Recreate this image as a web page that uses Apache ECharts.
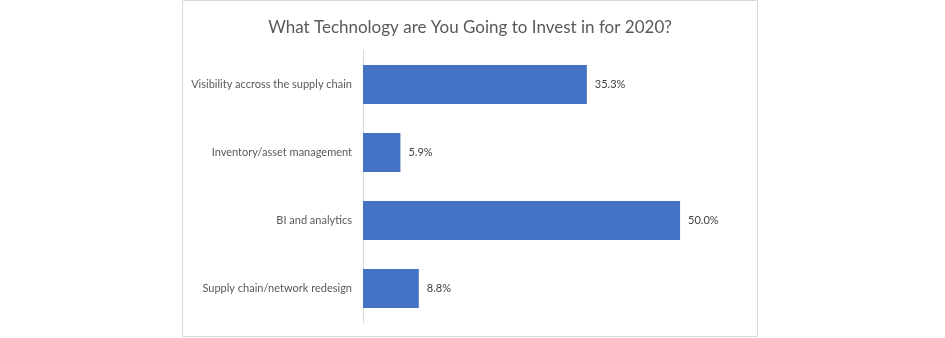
<!DOCTYPE html>
<html>
<head>
<meta charset="utf-8">
<script src="https://cdn.jsdelivr.net/npm/echarts@6/dist/echarts.min.js"></script>
<style>
html,body{margin:0;padding:0;background:#fff;}
#chart{width:945px;height:338px;}
</style>
</head>
<body>
<div id="chart"></div>
<script>
const title = "What Technology are You Going to Invest in for 2020?";
const categories = ["Visibility accross the supply chain", "Inventory/asset management", "BI and analytics", "Supply chain/network redesign"];
const values = [35.3, 5.9, 50.0, 8.8];
const axisMax = 60;

const chart = echarts.init(document.getElementById('chart'), null, {renderer: 'canvas'});
chart.setOption({
  animation: false,
  backgroundColor: '#ffffff',
  title: {
    text: title,
    left: 471, top: 14, textAlign: 'center',
    textStyle: {fontFamily: 'Lato', fontSize: 17, fontWeight: 'normal', color: '#595959'}
  },
  graphic: [{
    type: 'rect', shape: {x: 182.5, y: 0.5, width: 575, height: 336},
    style: {fill: 'none', stroke: '#d9d9d9', lineWidth: 1}, silent: true
  }],
  grid: {left: 363, top: 50.5, right: 201.5, bottom: 15.5, containLabel: false},
  xAxis: {
    type: 'value', min: 0, max: axisMax, show: false
  },
  yAxis: {
    type: 'category', data: categories, inverse: true,
    axisLine: {show: true, lineStyle: {color: '#d9d9d9', width: 1}},
    axisTick: {show: false},
    axisLabel: {fontFamily: 'Lato', fontSize: 11, color: '#595959', margin: 11}
  },
  series: [{
    type: 'bar', data: values, barWidth: '57%',
    itemStyle: {color: '#4472c4'},
    label: {show: true, position: 'right', distance: 8, formatter: p => p.value.toFixed(1) + '%',
      fontFamily: 'Lato', fontSize: 11, color: '#404040'}
  }]
});
chart.setOption({title: {left: 465}});
</script>
</body>
</html>
